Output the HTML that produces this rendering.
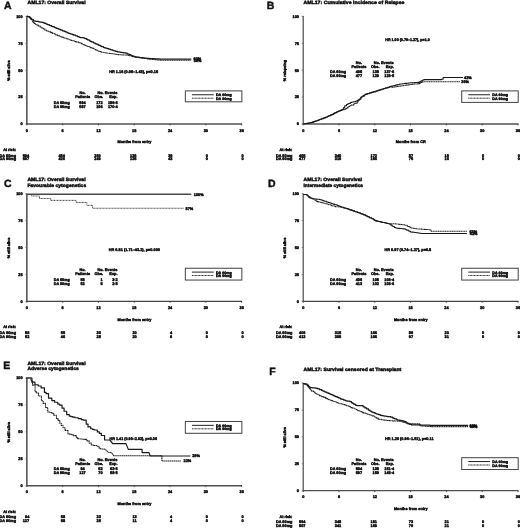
<!DOCTYPE html>
<html lang="en">
<head>
<meta charset="utf-8">
<title>AML17 survival figure</title>
<style>
html,body{margin:0;padding:0;background:#fff;}
body{width:520px;height:528px;overflow:hidden;}
svg{display:block;font-family:"Liberation Sans", sans-serif;font-weight:bold;fill:#111;}
text{stroke:#111;stroke-width:4.5px;}
</style>
</head>
<body>
<svg width="520" height="528" viewBox="0 0 5200 5280" text-rendering="geometricPrecision">
<g id="panel-A">
<line x1="268.5" y1="160.5" x2="268.5" y2="1245.5" stroke="#565656" stroke-width="16"/>
<line x1="262.5" y1="1239.5" x2="2420.5" y2="1239.5" stroke="#525252" stroke-width="16"/>
<line x1="268.5" y1="1237.5" x2="268.5" y2="1253.5" stroke="#3a3a3a" stroke-width="9"/>
<text x="268.5" y="1316.4" font-size="38.5" text-anchor="middle">0</text>
<line x1="626.5" y1="1237.5" x2="626.5" y2="1253.5" stroke="#3a3a3a" stroke-width="9"/>
<text x="626.5" y="1316.4" font-size="38.5" text-anchor="middle">6</text>
<line x1="984.5" y1="1237.5" x2="984.5" y2="1253.5" stroke="#3a3a3a" stroke-width="9"/>
<text x="984.5" y="1316.4" font-size="38.5" text-anchor="middle">12</text>
<line x1="1342.5" y1="1237.5" x2="1342.5" y2="1253.5" stroke="#3a3a3a" stroke-width="9"/>
<text x="1342.5" y="1316.4" font-size="38.5" text-anchor="middle">18</text>
<line x1="1700.5" y1="1237.5" x2="1700.5" y2="1253.5" stroke="#3a3a3a" stroke-width="9"/>
<text x="1700.5" y="1316.4" font-size="38.5" text-anchor="middle">24</text>
<line x1="2058.5" y1="1237.5" x2="2058.5" y2="1253.5" stroke="#3a3a3a" stroke-width="9"/>
<text x="2058.5" y="1316.4" font-size="38.5" text-anchor="middle">30</text>
<line x1="2416.5" y1="1237.5" x2="2416.5" y2="1253.5" stroke="#3a3a3a" stroke-width="9"/>
<text x="2416.5" y="1316.4" font-size="38.5" text-anchor="middle">36</text>
<line x1="253.5" y1="1239.5" x2="268.5" y2="1239.5" stroke="#666" stroke-width="8"/>
<text x="226.5" y="1253.4" font-size="38.5" text-anchor="end">0</text>
<line x1="253.5" y1="970.5" x2="268.5" y2="970.5" stroke="#666" stroke-width="8"/>
<text x="226.5" y="984.4" font-size="38.5" text-anchor="end">25</text>
<line x1="253.5" y1="701.5" x2="268.5" y2="701.5" stroke="#666" stroke-width="8"/>
<text x="226.5" y="715.4" font-size="38.5" text-anchor="end">50</text>
<line x1="253.5" y1="432.5" x2="268.5" y2="432.5" stroke="#666" stroke-width="8"/>
<text x="226.5" y="446.4" font-size="38.5" text-anchor="end">75</text>
<line x1="253.5" y1="163.5" x2="268.5" y2="163.5" stroke="#666" stroke-width="8"/>
<text x="226.5" y="177.4" font-size="38.5" text-anchor="end">100</text>
<text x="41" y="87.5" font-size="105" stroke-width="2.5">A</text>
<text x="276" y="35.5" font-size="47" textLength="580" lengthAdjust="spacingAndGlyphs">AML17: Overall Survival</text>
<text x="99.5" y="705.5" font-size="38" text-anchor="middle" textLength="206" lengthAdjust="spacingAndGlyphs" transform="rotate(-90 99.5 705.5)">% still alive</text>
<text x="1344.5" y="1432.4" font-size="38.5" text-anchor="middle">Months from entry</text>
<text x="1092.5" y="730.9" font-size="38.5" textLength="488" lengthAdjust="spacingAndGlyphs">HR 1.16 (0.95–1.43), p=0.15</text>
<text x="825.5" y="938.4" font-size="38.5" text-anchor="middle">No.</text>
<text x="826.5" y="978.4" font-size="38.5" text-anchor="middle">Patients</text>
<text x="1073.5" y="938.4" font-size="38.5" text-anchor="middle">No. Events</text>
<text x="988.5" y="978.4" font-size="38.5" text-anchor="middle">Obs.</text>
<text x="1174.5" y="978.4" font-size="38.5" text-anchor="end">Exp.</text>
<text x="537.5" y="1037.4" font-size="38.5" textLength="160" lengthAdjust="spacingAndGlyphs">DA 60mg</text>
<text x="825.5" y="1037.4" font-size="38.5" text-anchor="middle">594</text>
<text x="1026.5" y="1037.4" font-size="38.5" text-anchor="end">172</text>
<text x="1177.5" y="1037.4" font-size="38.5" text-anchor="end">186·6</text>
<text x="537.5" y="1078.9" font-size="38.5" textLength="160" lengthAdjust="spacingAndGlyphs">DA 90mg</text>
<text x="825.5" y="1078.9" font-size="38.5" text-anchor="middle">597</text>
<text x="1026.5" y="1078.9" font-size="38.5" text-anchor="end">196</text>
<text x="1177.5" y="1078.9" font-size="38.5" text-anchor="end">170·4</text>
<rect x="1853.5" y="909" width="565" height="109" fill="none" stroke="#4a4a4a" stroke-width="10.5"/>
<line x1="1919.5" y1="947.5" x2="2137.5" y2="947.5" stroke="#151515" stroke-width="9.5"/>
<line x1="1919.5" y1="982" x2="2137.5" y2="982" stroke="#151515" stroke-width="9.5" stroke-dasharray="10 4.5"/>
<text x="2159.5" y="962" font-size="36" textLength="158" lengthAdjust="spacingAndGlyphs" stroke-width="3">DA 60mg</text>
<text x="2159.5" y="998" font-size="36" textLength="158" lengthAdjust="spacingAndGlyphs" stroke-width="3">DA 90mg</text>
<text x="31.5" y="1510.4" font-size="38.5" textLength="128" lengthAdjust="spacingAndGlyphs">At risk:</text>
<text x="-4.5" y="1566.4" font-size="38.5" textLength="165" lengthAdjust="spacingAndGlyphs">DA 60mg</text>
<text x="258.5" y="1566.4" font-size="38.5" text-anchor="middle">594</text>
<text x="616.5" y="1566.4" font-size="38.5" text-anchor="middle">484</text>
<text x="974.5" y="1566.4" font-size="38.5" text-anchor="middle">260</text>
<text x="1332.5" y="1566.4" font-size="38.5" text-anchor="middle">136</text>
<text x="1703.5" y="1566.4" font-size="38.5" text-anchor="middle">39</text>
<text x="2067.5" y="1566.4" font-size="38.5" text-anchor="middle">0</text>
<text x="2425.5" y="1566.4" font-size="38.5" text-anchor="middle">0</text>
<text x="-4.5" y="1604.4" font-size="38.5" textLength="165" lengthAdjust="spacingAndGlyphs">DA 90mg</text>
<text x="258.5" y="1604.4" font-size="38.5" text-anchor="middle">597</text>
<text x="616.5" y="1604.4" font-size="38.5" text-anchor="middle">426</text>
<text x="974.5" y="1604.4" font-size="38.5" text-anchor="middle">249</text>
<text x="1332.5" y="1604.4" font-size="38.5" text-anchor="middle">135</text>
<text x="1703.5" y="1604.4" font-size="38.5" text-anchor="middle">43</text>
<text x="2067.5" y="1604.4" font-size="38.5" text-anchor="middle">0</text>
<text x="2425.5" y="1604.4" font-size="38.5" text-anchor="middle">0</text>
<path d="M268 162.5 L280.5 162.5 L280.5 166.8 L298 166.8 L298 178.8 L305.4 178.8 L305.4 186.9 L315.8 186.9 L315.8 197.1 L334.4 197.1 L334.4 207.9 L349.3 207.9 L349.3 210.9 L357.9 210.9 L357.9 212.6 L369 212.6 L369 214.7 L386.6 214.7 L386.6 217.9 L398.9 217.9 L398.9 220.2 L406.2 220.2 L406.2 221.5 L424 221.5 L424 224.8 L432.5 224.8 L432.5 228.1 L447.2 228.1 L447.2 234.2 L461.7 234.2 L461.7 240.2 L474.2 240.2 L474.2 245.3 L492.7 245.3 L492.7 253 L501.9 253 L501.9 256.8 L516.1 256.8 L516.1 262.8 L524.5 262.8 L524.5 266.3 L543.1 266.3 L543.1 274.1 L551.8 274.1 L551.8 277.8 L565 277.8 L565 283.3 L582 283.3 L582 290.3 L599.6 290.3 L599.6 297.3 L607.7 297.3 L607.7 300.6 L625.3 300.6 L625.3 307.6 L642.4 307.6 L642.4 314.4 L653.2 314.4 L653.2 318.8 L669.2 318.8 L669.2 325.2 L679 325.2 L679 329.1 L687.8 329.1 L687.8 332.6 L696.8 332.6 L696.8 336.2 L707.5 336.2 L707.5 340.3 L724.4 340.3 L724.4 346.6 L736.9 346.6 L736.9 351.3 L755.8 351.3 L755.8 358.4 L773.5 358.4 L773.5 365.1 L783 365.1 L783 368.6 L795.2 368.6 L795.2 373.2 L803 373.2 L803 375.3 L817 375.3 L817 376.8 L831.3 376.8 L831.3 378.3 L845.4 378.3 L845.4 383.1 L853.4 383.1 L853.4 387.4 L867.8 387.4 L867.8 394.9 L876.1 394.9 L876.1 399.3 L893.2 399.3 L893.2 408.3 L905.7 408.3 L905.7 414.9 L913.9 414.9 L913.9 419.2 L932.7 419.2 L932.7 428.4 L951 428.4 L951 436.6 L962 436.6 L962 441.4 L980.1 441.4 L980.1 449.5 L990.5 449.5 L990.5 454.1 L1003.9 454.1 L1003.9 460.1 L1017.8 460.1 L1017.8 466.3 L1034.3 466.3 L1034.3 473.6 L1042.1 473.6 L1042.1 476.5 L1049.6 476.5 L1049.6 478.9 L1058.4 478.9 L1058.4 481.7 L1070 481.7 L1070 485.4 L1086.6 485.4 L1086.6 490.7 L1102.2 490.7 L1102.2 495.7 L1110.5 495.7 L1110.5 498.4 L1126.3 498.4 L1126.3 503.4 L1135.6 503.4 L1135.6 506.4 L1142.8 506.4 L1142.8 508.7 L1155.6 508.7 L1155.6 512.8 L1173.5 512.8 L1173.5 518.5 L1191.4 518.5 L1191.4 521.2 L1203.7 521.2 L1203.7 522.8 L1220.2 522.8 L1220.2 525 L1229.6 525 L1229.6 526.3 L1238.5 526.3 L1238.5 527.5 L1257 527.5 L1257 532 L1272 532 L1272 538.3 L1281.1 538.3 L1281.1 542.2 L1292.2 542.2 L1292.2 546.8 L1308.4 546.8 L1308.4 553.7 L1316.1 553.7 L1316.1 557 L1325.4 557 L1325.4 560.9 L1342 560.9 L1342 566.7 L1351.8 566.7 L1351.8 568.3 L1363.9 568.3 L1363.9 570.2 L1376 570.2 L1376 572.2 L1388.8 572.2 L1388.8 574.2 L1399.5 574.2 L1399.5 575.9 L1409.5 575.9 L1409.5 576.9 L1426.1 576.9 L1426.1 578.6 L1442.2 578.6 L1442.2 580.2 L1460.5 580.2 L1460.5 582.1 L1468 582.1 L1468 582.8 L1476.9 582.8 L1476.9 583.7 L1494.2 583.7 L1494.2 585.4 L1504.9 585.4 L1504.9 586.2 L1521.4 586.2 L1521.4 587 L1532.1 587 L1532.1 587.4 L1543.8 587.4 L1543.8 587.9 L1558.8 587.9 L1558.8 588.6 L1570.9 588.6 L1570.9 589.2 L1584.2 589.2 L1584.2 589.7 L1591.7 589.7 L1591.7 590.1 L1608.9 590.1 L1608.9 590.8 L1623.4 590.8 L1623.4 591 L1633.4 591 L1633.4 591 L1646.1 591 L1646.1 591 L1660.8 591 L1660.8 591 L1679 591 L1679 591 L1686.3 591 L1686.3 591 L1704.4 591 L1704.4 591 L1718.4 591 L1718.4 591 L1725.9 591 L1725.9 591 L1737.3 591 L1737.3 591 L1753 591 L1753 591 L1761.4 591 L1761.4 591 L1775.4 591 L1775.4 591 L1789.1 591 L1789.1 591 L1803 591 L1803 591 L1810.4 591 L1810.4 591 L1817.6 591 L1817.6 591 L1836.2 591 L1836.2 591 L1845.1 591 L1845.1 591 L1854.4 591 L1854.4 591 L1868.2 591 L1868.2 591 L1875.4 591 L1875.4 591 L1891.2 591 L1891.2 591 L1907.4 591 L1907.4 591 L1912.5 591 L1912.5 591" fill="none" stroke="#1a1a1a" stroke-width="12.5" stroke-linejoin="round"/>
<path d="M268 162.5 L278.1 162.5 L278.1 166.9 L293.3 166.9 L293.3 175.7 L308.5 175.7 L308.5 193.3 L325.7 193.3 L325.7 215.9 L335 215.9 L335 227.7 L344.7 227.7 L344.7 235.4 L353.5 235.4 L353.5 240.8 L363.2 240.8 L363.2 246.8 L379 246.8 L379 256.5 L387.6 256.5 L387.6 261.7 L400.9 261.7 L400.9 269.9 L410.5 269.9 L410.5 275.8 L421 275.8 L421 282.2 L433.2 282.2 L433.2 289.7 L450.3 289.7 L450.3 300.1 L464.6 300.1 L464.6 306.5 L471.7 306.5 L471.7 309.7 L482.1 309.7 L482.1 314.4 L490.8 314.4 L490.8 318.3 L508.3 318.3 L508.3 326.1 L525 326.1 L525 333.6 L541.7 333.6 L541.7 341.1 L558.6 341.1 L558.6 348.6 L574.5 348.6 L574.5 355.8 L592.9 355.8 L592.9 362.3 L609.4 362.3 L609.4 368.1 L619.5 368.1 L619.5 371.7 L636.7 371.7 L636.7 377.7 L649.6 377.7 L649.6 382.2 L665.6 382.2 L665.6 387.9 L679.4 387.9 L679.4 392.7 L691.5 392.7 L691.5 397 L702.9 397 L702.9 400.9 L715.1 400.9 L715.1 404.7 L725.8 404.7 L725.8 408 L734.2 408 L734.2 410.6 L751.1 410.6 L751.1 415.8 L767.7 415.8 L767.7 421 L786.5 421 L786.5 426.8 L801.8 426.8 L801.8 431.8 L815.4 431.8 L815.4 437.8 L831.4 437.8 L831.4 444.8 L840 444.8 L840 448.6 L855.1 448.6 L855.1 455.3 L867.5 455.3 L867.5 460.7 L876.6 460.7 L876.6 464.7 L886 464.7 L886 468.8 L899.3 468.8 L899.3 474.7 L909.3 474.7 L909.3 478.9 L921.8 478.9 L921.8 484.2 L936.1 484.2 L936.1 490.2 L947.9 490.2 L947.9 495.2 L956.4 495.2 L956.4 498.8 L969.3 498.8 L969.3 504.3 L979.1 504.3 L979.1 508.4 L989 508.4 L989 512.6 L998.3 512.6 L998.3 516.5 L1009.7 516.5 L1009.7 521.3 L1017.6 521.3 L1017.6 523.2 L1032.4 523.2 L1032.4 525.4 L1050.8 525.4 L1050.8 528 L1062.5 528 L1062.5 529.7 L1078.1 529.7 L1078.1 532 L1096.3 532 L1096.3 534.6 L1103.9 534.6 L1103.9 535.7 L1112.6 535.7 L1112.6 537 L1129.2 537 L1129.2 539.4 L1146.3 539.4 L1146.3 541.8 L1161 541.8 L1161 544 L1169.9 544 L1169.9 545.3 L1181.8 545.3 L1181.8 546.4 L1199.3 546.4 L1199.3 547.5 L1216.9 547.5 L1216.9 548.5 L1233.5 548.5 L1233.5 549.5 L1243 549.5 L1243 550.1 L1260.2 550.1 L1260.2 551.1 L1271.7 551.1 L1271.7 551.8 L1287.3 551.8 L1287.3 555.3 L1296 555.3 L1296 557.7 L1314.6 557.7 L1314.6 562.8 L1328.8 562.8 L1328.8 566.6 L1344.5 566.6 L1344.5 570 L1354.1 570 L1354.1 571.4 L1368.5 571.4 L1368.5 573.5 L1382.4 573.5 L1382.4 575.5 L1396.5 575.5 L1396.5 577.5 L1407.8 577.5 L1407.8 579.1 L1423.6 579.1 L1423.6 581.3 L1434.7 581.3 L1434.7 582.9 L1445.2 582.9 L1445.2 584.3 L1454.2 584.3 L1454.2 585.6 L1469.4 585.6 L1469.4 587.7 L1477.7 587.7 L1477.7 588.9 L1487.5 588.9 L1487.5 590.2 L1495.3 590.2 L1495.3 591.3 L1510 591.3 L1510 592.9 L1523.7 592.9 L1523.7 594.1 L1537.2 594.1 L1537.2 595.3 L1544.7 595.3 L1544.7 596 L1556.9 596 L1556.9 597.1 L1568.1 597.1 L1568.1 598 L1576.2 598 L1576.2 598.8 L1583.2 598.8 L1583.2 599.4 L1602.2 599.4 L1602.2 601.1 L1610.6 601.1 L1610.6 601.8 L1621.3 601.8 L1621.3 602 L1631.5 602 L1631.5 602 L1645.7 602 L1645.7 602 L1653.6 602 L1653.6 602 L1666.2 602 L1666.2 602 L1677.6 602 L1677.6 602 L1694.6 602 L1694.6 602 L1701.7 602 L1701.7 602 L1712.7 602 L1712.7 602 L1725.7 602 L1725.7 602 L1744.3 602 L1744.3 602 L1757.5 602 L1757.5 602 L1770.2 602 L1770.2 602 L1785.2 602 L1785.2 602 L1795.8 602 L1795.8 602 L1803.2 602 L1803.2 602 L1816.2 602 L1816.2 602 L1834.1 602 L1834.1 602 L1850 602 L1850 602 L1860.1 602 L1860.1 602 L1875.3 602 L1875.3 602 L1892.5 602 L1892.5 602 L1902.6 602 L1902.6 602 L1912.5 602 L1912.5 602" fill="none" stroke="#1c1c1c" stroke-width="11" stroke-dasharray="13 4.5" stroke-linejoin="round"/>
<text x="1935" y="603.9" font-size="38.5">60%</text>
<text x="1938" y="615.9" font-size="38.5">59%</text>
</g>
<g id="panel-B">
<line x1="3032" y1="160.5" x2="3032" y2="1245.5" stroke="#4a4a4a" stroke-width="12"/>
<line x1="3026" y1="1239.5" x2="5184" y2="1239.5" stroke="#525252" stroke-width="16"/>
<line x1="3032" y1="1237.5" x2="3032" y2="1253.5" stroke="#3a3a3a" stroke-width="9"/>
<text x="3032" y="1316.4" font-size="38.5" text-anchor="middle">0</text>
<line x1="3390" y1="1237.5" x2="3390" y2="1253.5" stroke="#3a3a3a" stroke-width="9"/>
<text x="3390" y="1316.4" font-size="38.5" text-anchor="middle">6</text>
<line x1="3748" y1="1237.5" x2="3748" y2="1253.5" stroke="#3a3a3a" stroke-width="9"/>
<text x="3748" y="1316.4" font-size="38.5" text-anchor="middle">12</text>
<line x1="4106" y1="1237.5" x2="4106" y2="1253.5" stroke="#3a3a3a" stroke-width="9"/>
<text x="4106" y="1316.4" font-size="38.5" text-anchor="middle">18</text>
<line x1="4464" y1="1237.5" x2="4464" y2="1253.5" stroke="#3a3a3a" stroke-width="9"/>
<text x="4464" y="1316.4" font-size="38.5" text-anchor="middle">24</text>
<line x1="4822" y1="1237.5" x2="4822" y2="1253.5" stroke="#3a3a3a" stroke-width="9"/>
<text x="4822" y="1316.4" font-size="38.5" text-anchor="middle">30</text>
<line x1="5180" y1="1237.5" x2="5180" y2="1253.5" stroke="#3a3a3a" stroke-width="9"/>
<text x="5180" y="1316.4" font-size="38.5" text-anchor="middle">36</text>
<line x1="3017" y1="1239.5" x2="3032" y2="1239.5" stroke="#666" stroke-width="8"/>
<text x="2990" y="1253.4" font-size="38.5" text-anchor="end">0</text>
<line x1="3017" y1="970.5" x2="3032" y2="970.5" stroke="#666" stroke-width="8"/>
<text x="2990" y="984.4" font-size="38.5" text-anchor="end">25</text>
<line x1="3017" y1="701.5" x2="3032" y2="701.5" stroke="#666" stroke-width="8"/>
<text x="2990" y="715.4" font-size="38.5" text-anchor="end">50</text>
<line x1="3017" y1="432.5" x2="3032" y2="432.5" stroke="#666" stroke-width="8"/>
<text x="2990" y="446.4" font-size="38.5" text-anchor="end">75</text>
<line x1="3017" y1="163.5" x2="3032" y2="163.5" stroke="#666" stroke-width="8"/>
<text x="2990" y="177.4" font-size="38.5" text-anchor="end">100</text>
<text x="2668" y="90" font-size="105" stroke-width="2.5">B</text>
<text x="3035" y="35.5" font-size="47" textLength="1010" lengthAdjust="spacingAndGlyphs">AML17: Cumulative incidence of Relapse</text>
<text x="2863" y="705.5" font-size="38" text-anchor="middle" textLength="215" lengthAdjust="spacingAndGlyphs" transform="rotate(-90 2863 705.5)">% relapsing</text>
<text x="4108" y="1432.4" font-size="38.5" text-anchor="middle">Months from CR</text>
<text x="3853" y="414.9" font-size="38.5" textLength="444" lengthAdjust="spacingAndGlyphs">HR 1.00 (0.79–1.27), p=1.0</text>
<text x="3589" y="638.4" font-size="38.5" text-anchor="middle">No.</text>
<text x="3590" y="676.4" font-size="38.5" text-anchor="middle">Patients</text>
<text x="3837" y="638.4" font-size="38.5" text-anchor="middle">No. Events</text>
<text x="3752" y="676.4" font-size="38.5" text-anchor="middle">Obs.</text>
<text x="3938" y="676.4" font-size="38.5" text-anchor="end">Exp.</text>
<text x="3301" y="733.4" font-size="38.5" textLength="160" lengthAdjust="spacingAndGlyphs">DA 60mg</text>
<text x="3589" y="733.4" font-size="38.5" text-anchor="middle">495</text>
<text x="3790" y="733.4" font-size="38.5" text-anchor="end">138</text>
<text x="3941" y="733.4" font-size="38.5" text-anchor="end">137·6</text>
<text x="3301" y="772.4" font-size="38.5" textLength="160" lengthAdjust="spacingAndGlyphs">DA 90mg</text>
<text x="3589" y="772.4" font-size="38.5" text-anchor="middle">477</text>
<text x="3790" y="772.4" font-size="38.5" text-anchor="end">129</text>
<text x="3941" y="772.4" font-size="38.5" text-anchor="end">129·5</text>
<rect x="4617" y="909" width="565" height="115" fill="none" stroke="#4a4a4a" stroke-width="10.5"/>
<line x1="4683" y1="947.5" x2="4901" y2="947.5" stroke="#151515" stroke-width="9.5"/>
<line x1="4683" y1="982" x2="4901" y2="982" stroke="#151515" stroke-width="9.5" stroke-dasharray="10 4.5"/>
<text x="4923" y="962" font-size="36" textLength="158" lengthAdjust="spacingAndGlyphs" stroke-width="3">DA 60mg</text>
<text x="4923" y="998" font-size="36" textLength="158" lengthAdjust="spacingAndGlyphs" stroke-width="3">DA 90mg</text>
<text x="2795" y="1510.4" font-size="38.5" textLength="128" lengthAdjust="spacingAndGlyphs">At risk:</text>
<text x="2759" y="1566.4" font-size="38.5" textLength="165" lengthAdjust="spacingAndGlyphs">DA 60mg</text>
<text x="3022" y="1566.4" font-size="38.5" text-anchor="middle">495</text>
<text x="3380" y="1566.4" font-size="38.5" text-anchor="middle">340</text>
<text x="3738" y="1566.4" font-size="38.5" text-anchor="middle">172</text>
<text x="4109" y="1566.4" font-size="38.5" text-anchor="middle">87</text>
<text x="4467" y="1566.4" font-size="38.5" text-anchor="middle">18</text>
<text x="4831" y="1566.4" font-size="38.5" text-anchor="middle">0</text>
<text x="5189" y="1566.4" font-size="38.5" text-anchor="middle">0</text>
<text x="2759" y="1604.4" font-size="38.5" textLength="165" lengthAdjust="spacingAndGlyphs">DA 90mg</text>
<text x="3022" y="1604.4" font-size="38.5" text-anchor="middle">477</text>
<text x="3380" y="1604.4" font-size="38.5" text-anchor="middle">319</text>
<text x="3738" y="1604.4" font-size="38.5" text-anchor="middle">166</text>
<text x="4109" y="1604.4" font-size="38.5" text-anchor="middle">75</text>
<text x="4467" y="1604.4" font-size="38.5" text-anchor="middle">16</text>
<text x="4831" y="1604.4" font-size="38.5" text-anchor="middle">0</text>
<text x="5189" y="1604.4" font-size="38.5" text-anchor="middle">0</text>
<path d="M3037 1237.5 L3044.5 1237.5 L3044.5 1236.5 L3059.8 1236.5 L3059.8 1234.6 L3068.5 1234.6 L3068.5 1233.5 L3081.1 1233.5 L3081.1 1231.7 L3096.2 1231.7 L3096.2 1228.1 L3112.7 1228.1 L3112.7 1224 L3125.1 1224 L3125.1 1221 L3138.1 1221 L3138.1 1216.2 L3145.3 1216.2 L3145.3 1213.5 L3157.5 1213.5 L3157.5 1209 L3169 1209 L3169 1204.7 L3186.2 1204.7 L3186.2 1198.4 L3199.8 1198.4 L3199.8 1193.3 L3215.8 1193.3 L3215.8 1187.4 L3228 1187.4 L3228 1182.8 L3237.2 1182.8 L3237.2 1179.1 L3254.4 1179.1 L3254.4 1172.3 L3271.2 1172.3 L3271.2 1165.5 L3282.7 1165.5 L3282.7 1160.9 L3290.9 1160.9 L3290.9 1157.3 L3304 1157.3 L3304 1150.7 L3317 1150.7 L3317 1144.2 L3333.2 1144.2 L3333.2 1136 L3347.4 1136 L3347.4 1128.9 L3360.5 1128.9 L3360.5 1122.3 L3374.4 1122.3 L3374.4 1115.3 L3385.9 1115.3 L3385.9 1110.2 L3393.5 1110.2 L3393.5 1106.9 L3401.2 1106.9 L3401.2 1103.5 L3419.5 1103.5 L3419.5 1095.4 L3436.6 1095.4 L3436.6 1074.2 L3447.2 1074.2 L3447.2 1057.1 L3464.8 1057.1 L3464.8 1045 L3478.1 1045 L3478.1 1038.3 L3486.3 1038.3 L3486.3 1034.2 L3503.6 1034.2 L3503.6 1025.5 L3517.6 1025.5 L3517.6 1020.2 L3535.8 1020.2 L3535.8 1017.3 L3550.9 1017.3 L3550.9 1014.5 L3559.1 1014.5 L3559.1 1010.4 L3573.5 1010.4 L3573.5 1003.1 L3590 1003.1 L3590 992.3 L3607.8 992.3 L3607.8 972.1 L3618.8 972.1 L3618.8 964.6 L3632.1 964.6 L3632.1 955.4 L3647.5 955.4 L3647.5 944.7 L3656.5 944.7 L3656.5 941 L3673.7 941 L3673.7 935.7 L3690.1 935.7 L3690.1 930.6 L3697.7 930.6 L3697.7 928.2 L3711.8 928.2 L3711.8 923.8 L3723.2 923.8 L3723.2 920.2 L3732.4 920.2 L3732.4 917.3 L3746.7 917.3 L3746.7 912.8 L3765.3 912.8 L3765.3 906.9 L3778.9 906.9 L3778.9 902.6 L3787.3 902.6 L3787.3 900 L3800.2 900 L3800.2 895.9 L3816.6 895.9 L3816.6 890.9 L3835 890.9 L3835 885.1 L3850.6 885.1 L3850.6 880.3 L3858.1 880.3 L3858.1 878 L3876.7 878 L3876.7 872.2 L3890.9 872.2 L3890.9 867.8 L3898.9 867.8 L3898.9 865.3 L3907.5 865.3 L3907.5 863.1 L3915.5 863.1 L3915.5 861.1 L3930.5 861.1 L3930.5 857.4 L3939.3 857.4 L3939.3 855.2 L3956 855.2 L3956 851 L3964.3 851 L3964.3 848.9 L3977.7 848.9 L3977.7 845.6 L3990.1 845.6 L3990.1 842.5 L3997.5 842.5 L3997.5 840.6 L4004.5 840.6 L4004.5 839.4 L4022.4 839.4 L4022.4 837.2 L4041.1 837.2 L4041.1 834.9 L4049.6 834.9 L4049.6 833.8 L4065.4 833.8 L4065.4 831.8 L4084.3 831.8 L4084.3 829.5 L4102.1 829.5 L4102.1 827.4 L4119.7 827.4 L4119.7 826.8 L4130.8 826.8 L4130.8 826.5 L4146.4 826.5 L4146.4 826 L4159.4 826 L4159.4 825.5 L4177.6 825.5 L4177.6 823.8 L4193.1 823.8 L4193.1 816.6 L4210.2 816.6 L4210.2 808.7 L4227.5 808.7 L4227.5 800.6 L4239.1 800.6 L4239.1 796 L4254.7 796 L4254.7 796 L4262.8 796 L4262.8 796 L4272.2 796 L4272.2 796 L4290.5 796 L4290.5 796 L4302.3 796 L4302.3 796 L4317.6 796 L4317.6 796 L4331.5 796 L4331.5 796 L4341.6 796 L4341.6 796 L4355.6 796 L4355.6 796 L4373.6 796 L4373.6 796 L4384.5 796 L4384.5 796 L4395.7 796 L4395.7 796 L4404.9 796 L4404.9 796 L4414 796 L4414 793.3 L4431 793.3 L4431 774 L4446.4 774 L4446.4 774 L4465 774 L4465 774 L4480.1 774 L4480.1 774 L4498.6 774 L4498.6 774 L4508.2 774 L4508.2 774 L4517.5 774 L4517.5 774 L4527.1 774 L4527.1 774 L4538.7 774 L4538.7 774 L4557.6 774 L4557.6 774 L4567.3 774 L4567.3 774 L4579.8 774 L4579.8 774 L4587.5 774 L4587.5 774 L4594.8 774 L4594.8 774 L4608.4 774 L4608.4 774 L4622.7 774 L4622.7 774 L4631 774 L4631 774" fill="none" stroke="#1a1a1a" stroke-width="10.5" stroke-linejoin="round"/>
<path d="M3037 1237.5 L3053.1 1237.5 L3053.1 1235.4 L3066.3 1235.4 L3066.3 1233.8 L3085.3 1233.8 L3085.3 1230.7 L3098.7 1230.7 L3098.7 1227.4 L3117 1227.4 L3117 1223 L3125.5 1223 L3125.5 1220.8 L3138.4 1220.8 L3138.4 1216 L3147.1 1216 L3147.1 1212.8 L3154.2 1212.8 L3154.2 1210.2 L3162.3 1210.2 L3162.3 1207.2 L3172.6 1207.2 L3172.6 1203.4 L3181.9 1203.4 L3181.9 1199.9 L3195.7 1199.9 L3195.7 1194.8 L3209.1 1194.8 L3209.1 1189.9 L3218.4 1189.9 L3218.4 1186.4 L3233.2 1186.4 L3233.2 1180.7 L3244.5 1180.7 L3244.5 1176.2 L3260.4 1176.2 L3260.4 1169.8 L3272.1 1169.8 L3272.1 1165.2 L3280.9 1165.2 L3280.9 1161.6 L3290.1 1161.6 L3290.1 1157.7 L3308.6 1157.7 L3308.6 1148.4 L3323.1 1148.4 L3323.1 1141.1 L3337.3 1141.1 L3337.3 1134 L3351.4 1134 L3351.4 1126.9 L3364.5 1126.9 L3364.5 1120.3 L3373.4 1120.3 L3373.4 1115.8 L3389.2 1115.8 L3389.2 1108.7 L3404.4 1108.7 L3404.4 1102 L3421.9 1102 L3421.9 1094.3 L3434.6 1094.3 L3434.6 1096.9 L3441.7 1096.9 L3441.7 1092.8 L3453.2 1092.8 L3453.2 1086.2 L3466.5 1086.2 L3466.5 1078.4 L3480.6 1078.4 L3480.6 1070.2 L3491.2 1070.2 L3491.2 1064.1 L3502.7 1064.1 L3502.7 1057.6 L3514.8 1057.6 L3514.8 1051.5 L3532.7 1051.5 L3532.7 1042.5 L3541.1 1042.5 L3541.1 1038.3 L3549.7 1038.3 L3549.7 1033.9 L3567.9 1033.9 L3567.9 1021.3 L3581.7 1021.3 L3581.7 1005.6 L3588.9 1005.6 L3588.9 996.9 L3598.4 996.9 L3598.4 982.4 L3610.1 982.4 L3610.1 973.1 L3623.3 973.1 L3623.3 964.1 L3640.3 964.1 L3640.3 952.6 L3655.1 952.6 L3655.1 944.4 L3664.1 944.4 L3664.1 941.5 L3679.3 941.5 L3679.3 936.6 L3694.7 936.6 L3694.7 931.7 L3709.2 931.7 L3709.2 927.2 L3721.5 927.2 L3721.5 923.3 L3735.4 923.3 L3735.4 919 L3754.3 919 L3754.3 913.2 L3766.7 913.2 L3766.7 909.3 L3779.2 909.3 L3779.2 905.4 L3797.2 905.4 L3797.2 899.9 L3811.1 899.9 L3811.1 895.7 L3821.6 895.7 L3821.6 892.5 L3840.1 892.5 L3840.1 887 L3853.2 887 L3853.2 883.1 L3863.5 883.1 L3863.5 880 L3873.2 880 L3873.2 877 L3881.6 877 L3881.6 874.5 L3895.2 874.5 L3895.2 870.4 L3905.1 870.4 L3905.1 869.4 L3922.8 869.4 L3922.8 870.8 L3932.2 870.8 L3932.2 869.9 L3948.4 869.9 L3948.4 867.5 L3962.9 867.5 L3962.9 865.4 L3980.2 865.4 L3980.2 862.8 L3991.7 862.8 L3991.7 861.1 L4002.2 861.1 L4002.2 859.6 L4018.4 859.6 L4018.4 857.2 L4034.2 857.2 L4034.2 854.8 L4051.1 854.8 L4051.1 852.3 L4060.8 852.3 L4060.8 851 L4074.2 851 L4074.2 849 L4088.4 849 L4088.4 847 L4104.3 847 L4104.3 844.7 L4117.8 844.7 L4117.8 842.8 L4125.1 842.8 L4125.1 841.8 L4140.4 841.8 L4140.4 840 L4152.5 840 L4152.5 840 L4164.6 840 L4164.6 840 L4179.7 840 L4179.7 835.7 L4197.4 835.7 L4197.4 828.6 L4210.5 828.6 L4210.5 823.3 L4226.9 823.3 L4226.9 817.5 L4242.4 817.5 L4242.4 817.5 L4254.9 817.5 L4254.9 817.5 L4270.3 817.5 L4270.3 817.5 L4281.4 817.5 L4281.4 817.5 L4299.9 817.5 L4299.9 817.5 L4307.5 817.5 L4307.5 817.5 L4317.2 817.5 L4317.2 817.5 L4325.9 817.5 L4325.9 817.5 L4343.4 817.5 L4343.4 817.5 L4352 817.5 L4352 817.5 L4361 817.5 L4361 817.5 L4371.1 817.5 L4371.1 817.5 L4379.2 817.5 L4379.2 817.5 L4394.1 817.5 L4394.1 817.5 L4405.7 817.5 L4405.7 817.5 L4422.1 817.5 L4422.1 817.5 L4431.5 817.5 L4431.5 817.5 L4448.5 817.5 L4448.5 817.5 L4461.5 817.5 L4461.5 817.5 L4473.1 817.5 L4473.1 817.5 L4486.3 817.5 L4486.3 817.5 L4495.5 817.5 L4495.5 817.5 L4506.1 817.5 L4506.1 817.5 L4518.6 817.5 L4518.6 817.5 L4535.4 817.5 L4535.4 817.5 L4543.8 817.5 L4543.8 817.5 L4556.8 817.5 L4556.8 817.5 L4569.7 817.5 L4569.7 817.5 L4583.4 817.5 L4583.4 817.5 L4591.2 817.5 L4591.2 817.5 L4600 817.5 L4600 817.5" fill="none" stroke="#1c1c1c" stroke-width="11.5" stroke-dasharray="13 4.5" stroke-linejoin="round"/>
<text x="4640" y="787.9" font-size="38.5">42%</text>
<text x="4613" y="831.4" font-size="38.5">39%</text>
</g>
<g id="panel-C">
<line x1="268.5" y1="1934.5" x2="268.5" y2="3019.5" stroke="#565656" stroke-width="16"/>
<line x1="262.5" y1="3013.5" x2="2420.5" y2="3013.5" stroke="#444" stroke-width="10.5"/>
<line x1="268.5" y1="3011.5" x2="268.5" y2="3027.5" stroke="#3a3a3a" stroke-width="9"/>
<text x="268.5" y="3090.4" font-size="38.5" text-anchor="middle">0</text>
<line x1="626.5" y1="3011.5" x2="626.5" y2="3027.5" stroke="#3a3a3a" stroke-width="9"/>
<text x="626.5" y="3090.4" font-size="38.5" text-anchor="middle">6</text>
<line x1="984.5" y1="3011.5" x2="984.5" y2="3027.5" stroke="#3a3a3a" stroke-width="9"/>
<text x="984.5" y="3090.4" font-size="38.5" text-anchor="middle">12</text>
<line x1="1342.5" y1="3011.5" x2="1342.5" y2="3027.5" stroke="#3a3a3a" stroke-width="9"/>
<text x="1342.5" y="3090.4" font-size="38.5" text-anchor="middle">18</text>
<line x1="1700.5" y1="3011.5" x2="1700.5" y2="3027.5" stroke="#3a3a3a" stroke-width="9"/>
<text x="1700.5" y="3090.4" font-size="38.5" text-anchor="middle">24</text>
<line x1="2058.5" y1="3011.5" x2="2058.5" y2="3027.5" stroke="#3a3a3a" stroke-width="9"/>
<text x="2058.5" y="3090.4" font-size="38.5" text-anchor="middle">30</text>
<line x1="2416.5" y1="3011.5" x2="2416.5" y2="3027.5" stroke="#3a3a3a" stroke-width="9"/>
<text x="2416.5" y="3090.4" font-size="38.5" text-anchor="middle">36</text>
<line x1="253.5" y1="3013.5" x2="268.5" y2="3013.5" stroke="#666" stroke-width="8"/>
<text x="226.5" y="3027.4" font-size="38.5" text-anchor="end">0</text>
<line x1="253.5" y1="2744.5" x2="268.5" y2="2744.5" stroke="#666" stroke-width="8"/>
<text x="226.5" y="2758.4" font-size="38.5" text-anchor="end">25</text>
<line x1="253.5" y1="2475.5" x2="268.5" y2="2475.5" stroke="#666" stroke-width="8"/>
<text x="226.5" y="2489.4" font-size="38.5" text-anchor="end">50</text>
<line x1="253.5" y1="2206.5" x2="268.5" y2="2206.5" stroke="#666" stroke-width="8"/>
<text x="226.5" y="2220.4" font-size="38.5" text-anchor="end">75</text>
<line x1="253.5" y1="1937.5" x2="268.5" y2="1937.5" stroke="#666" stroke-width="8"/>
<text x="226.5" y="1951.4" font-size="38.5" text-anchor="end">100</text>
<text x="39" y="1870" font-size="105" stroke-width="2.5">C</text>
<text x="274" y="1812.5" font-size="47" textLength="582" lengthAdjust="spacingAndGlyphs">AML17: Overall Survival</text>
<text x="274" y="1866" font-size="47" textLength="588" lengthAdjust="spacingAndGlyphs">Favourable cytogenetics</text>
<text x="99.5" y="2479.5" font-size="38" text-anchor="middle" textLength="206" lengthAdjust="spacingAndGlyphs" transform="rotate(-90 99.5 2479.5)">% still alive</text>
<text x="1344.5" y="3206.4" font-size="38.5" text-anchor="middle">Months from entry</text>
<text x="1087.5" y="2507.4" font-size="38.5" textLength="512" lengthAdjust="spacingAndGlyphs">HR 6.51 (1.71–43.2), p=0.006</text>
<text x="825.5" y="2710.4" font-size="38.5" text-anchor="middle">No.</text>
<text x="826.5" y="2750.4" font-size="38.5" text-anchor="middle">Patients</text>
<text x="1073.5" y="2710.4" font-size="38.5" text-anchor="middle">No. Events</text>
<text x="988.5" y="2750.4" font-size="38.5" text-anchor="middle">Obs.</text>
<text x="1174.5" y="2750.4" font-size="38.5" text-anchor="end">Exp.</text>
<text x="537.5" y="2809.4" font-size="38.5" textLength="160" lengthAdjust="spacingAndGlyphs">DA 60mg</text>
<text x="825.5" y="2809.4" font-size="38.5" text-anchor="middle">58</text>
<text x="1026.5" y="2809.4" font-size="38.5" text-anchor="end">1</text>
<text x="1177.5" y="2809.4" font-size="38.5" text-anchor="end">3·2</text>
<text x="537.5" y="2850.9" font-size="38.5" textLength="160" lengthAdjust="spacingAndGlyphs">DA 90mg</text>
<text x="825.5" y="2850.9" font-size="38.5" text-anchor="middle">52</text>
<text x="1026.5" y="2850.9" font-size="38.5" text-anchor="end">5</text>
<text x="1177.5" y="2850.9" font-size="38.5" text-anchor="end">2·8</text>
<rect x="1853.5" y="2682.5" width="565" height="118" fill="none" stroke="#4a4a4a" stroke-width="10.5"/>
<line x1="1919.5" y1="2721" x2="2137.5" y2="2721" stroke="#151515" stroke-width="9.5"/>
<line x1="1919.5" y1="2755.5" x2="2137.5" y2="2755.5" stroke="#151515" stroke-width="9.5" stroke-dasharray="10 4.5"/>
<text x="2159.5" y="2735.5" font-size="36" textLength="158" lengthAdjust="spacingAndGlyphs" stroke-width="3">DA 60mg</text>
<text x="2159.5" y="2771.5" font-size="36" textLength="158" lengthAdjust="spacingAndGlyphs" stroke-width="3">DA 90mg</text>
<text x="31.5" y="3284.4" font-size="38.5" textLength="128" lengthAdjust="spacingAndGlyphs">At risk:</text>
<text x="-4.5" y="3340.4" font-size="38.5" textLength="165" lengthAdjust="spacingAndGlyphs">DA 60mg</text>
<text x="271.5" y="3340.4" font-size="38.5" text-anchor="middle">58</text>
<text x="629.5" y="3340.4" font-size="38.5" text-anchor="middle">55</text>
<text x="987.5" y="3340.4" font-size="38.5" text-anchor="middle">36</text>
<text x="1345.5" y="3340.4" font-size="38.5" text-anchor="middle">20</text>
<text x="1709.5" y="3340.4" font-size="38.5" text-anchor="middle">4</text>
<text x="2067.5" y="3340.4" font-size="38.5" text-anchor="middle">0</text>
<text x="2425.5" y="3340.4" font-size="38.5" text-anchor="middle">0</text>
<text x="-4.5" y="3378.4" font-size="38.5" textLength="165" lengthAdjust="spacingAndGlyphs">DA 90mg</text>
<text x="271.5" y="3378.4" font-size="38.5" text-anchor="middle">52</text>
<text x="629.5" y="3378.4" font-size="38.5" text-anchor="middle">46</text>
<text x="987.5" y="3378.4" font-size="38.5" text-anchor="middle">28</text>
<text x="1345.5" y="3378.4" font-size="38.5" text-anchor="middle">20</text>
<text x="1709.5" y="3378.4" font-size="38.5" text-anchor="middle">6</text>
<text x="2067.5" y="3378.4" font-size="38.5" text-anchor="middle">0</text>
<text x="2425.5" y="3378.4" font-size="38.5" text-anchor="middle">0</text>
<path d="M268 1942 L1912.5 1942" fill="none" stroke="#484848" stroke-width="14" stroke-linejoin="round"/>
<path d="M315 1944 L315 1960 L394 1960 L394 1985 L506 1985 L506 2004 L762.5 2004 L762.5 2025 L869 2025 L869 2054 L925 2054 L925 2082.5 L1837.5 2082.5" fill="none" stroke="#2a2a2a" stroke-width="8.5" stroke-dasharray="10 5" stroke-linejoin="round"/>
<text x="1937.5" y="1955.9" font-size="38.5">100%</text>
<text x="1855" y="2097.9" font-size="38.5">87%</text>
</g>
<g id="panel-D">
<line x1="3032" y1="1934.5" x2="3032" y2="3019.5" stroke="#4a4a4a" stroke-width="12"/>
<line x1="3026" y1="3013.5" x2="5184" y2="3013.5" stroke="#444" stroke-width="10.5"/>
<line x1="3032" y1="3011.5" x2="3032" y2="3027.5" stroke="#3a3a3a" stroke-width="9"/>
<text x="3032" y="3090.4" font-size="38.5" text-anchor="middle">0</text>
<line x1="3390" y1="3011.5" x2="3390" y2="3027.5" stroke="#3a3a3a" stroke-width="9"/>
<text x="3390" y="3090.4" font-size="38.5" text-anchor="middle">6</text>
<line x1="3748" y1="3011.5" x2="3748" y2="3027.5" stroke="#3a3a3a" stroke-width="9"/>
<text x="3748" y="3090.4" font-size="38.5" text-anchor="middle">12</text>
<line x1="4106" y1="3011.5" x2="4106" y2="3027.5" stroke="#3a3a3a" stroke-width="9"/>
<text x="4106" y="3090.4" font-size="38.5" text-anchor="middle">18</text>
<line x1="4464" y1="3011.5" x2="4464" y2="3027.5" stroke="#3a3a3a" stroke-width="9"/>
<text x="4464" y="3090.4" font-size="38.5" text-anchor="middle">24</text>
<line x1="4822" y1="3011.5" x2="4822" y2="3027.5" stroke="#3a3a3a" stroke-width="9"/>
<text x="4822" y="3090.4" font-size="38.5" text-anchor="middle">30</text>
<line x1="5180" y1="3011.5" x2="5180" y2="3027.5" stroke="#3a3a3a" stroke-width="9"/>
<text x="5180" y="3090.4" font-size="38.5" text-anchor="middle">36</text>
<line x1="3017" y1="3013.5" x2="3032" y2="3013.5" stroke="#666" stroke-width="8"/>
<text x="2990" y="3027.4" font-size="38.5" text-anchor="end">0</text>
<line x1="3017" y1="2744.5" x2="3032" y2="2744.5" stroke="#666" stroke-width="8"/>
<text x="2990" y="2758.4" font-size="38.5" text-anchor="end">25</text>
<line x1="3017" y1="2475.5" x2="3032" y2="2475.5" stroke="#666" stroke-width="8"/>
<text x="2990" y="2489.4" font-size="38.5" text-anchor="end">50</text>
<line x1="3017" y1="2206.5" x2="3032" y2="2206.5" stroke="#666" stroke-width="8"/>
<text x="2990" y="2220.4" font-size="38.5" text-anchor="end">75</text>
<line x1="3017" y1="1937.5" x2="3032" y2="1937.5" stroke="#666" stroke-width="8"/>
<text x="2990" y="1951.4" font-size="38.5" text-anchor="end">100</text>
<text x="2680" y="1867.5" font-size="105" stroke-width="2.5">D</text>
<text x="3035" y="1812.5" font-size="47" textLength="584" lengthAdjust="spacingAndGlyphs">AML17: Overall Survival</text>
<text x="3035" y="1866" font-size="47" textLength="595" lengthAdjust="spacingAndGlyphs">Intermediate cytogenetics</text>
<text x="2863" y="2479.5" font-size="38" text-anchor="middle" textLength="206" lengthAdjust="spacingAndGlyphs" transform="rotate(-90 2863 2479.5)">% still alive</text>
<text x="4108" y="3206.4" font-size="38.5" text-anchor="middle">Months from entry</text>
<text x="3845" y="2507.4" font-size="38.5" textLength="467.5" lengthAdjust="spacingAndGlyphs">HR 0.97 (0.74–1.27), p=0.8</text>
<text x="3589" y="2710.4" font-size="38.5" text-anchor="middle">No.</text>
<text x="3590" y="2750.4" font-size="38.5" text-anchor="middle">Patients</text>
<text x="3837" y="2710.4" font-size="38.5" text-anchor="middle">No. Events</text>
<text x="3752" y="2750.4" font-size="38.5" text-anchor="middle">Obs.</text>
<text x="3938" y="2750.4" font-size="38.5" text-anchor="end">Exp.</text>
<text x="3301" y="2809.4" font-size="38.5" textLength="160" lengthAdjust="spacingAndGlyphs">DA 60mg</text>
<text x="3589" y="2809.4" font-size="38.5" text-anchor="middle">406</text>
<text x="3790" y="2809.4" font-size="38.5" text-anchor="end">108</text>
<text x="3941" y="2809.4" font-size="38.5" text-anchor="end">106·4</text>
<text x="3301" y="2850.9" font-size="38.5" textLength="160" lengthAdjust="spacingAndGlyphs">DA 90mg</text>
<text x="3589" y="2850.9" font-size="38.5" text-anchor="middle">413</text>
<text x="3790" y="2850.9" font-size="38.5" text-anchor="end">102</text>
<text x="3941" y="2850.9" font-size="38.5" text-anchor="end">103·6</text>
<rect x="4617" y="2682.5" width="565" height="118" fill="none" stroke="#4a4a4a" stroke-width="10.5"/>
<line x1="4683" y1="2721" x2="4901" y2="2721" stroke="#151515" stroke-width="9.5"/>
<line x1="4683" y1="2755.5" x2="4901" y2="2755.5" stroke="#151515" stroke-width="9.5" stroke-dasharray="10 4.5"/>
<text x="4923" y="2735.5" font-size="36" textLength="158" lengthAdjust="spacingAndGlyphs" stroke-width="3">DA 60mg</text>
<text x="4923" y="2771.5" font-size="36" textLength="158" lengthAdjust="spacingAndGlyphs" stroke-width="3">DA 90mg</text>
<text x="2795" y="3284.4" font-size="38.5" textLength="128" lengthAdjust="spacingAndGlyphs">At risk:</text>
<text x="2759" y="3340.4" font-size="38.5" textLength="165" lengthAdjust="spacingAndGlyphs">DA 60mg</text>
<text x="3022" y="3340.4" font-size="38.5" text-anchor="middle">406</text>
<text x="3380" y="3340.4" font-size="38.5" text-anchor="middle">315</text>
<text x="3738" y="3340.4" font-size="38.5" text-anchor="middle">166</text>
<text x="4109" y="3340.4" font-size="38.5" text-anchor="middle">86</text>
<text x="4467" y="3340.4" font-size="38.5" text-anchor="middle">20</text>
<text x="4831" y="3340.4" font-size="38.5" text-anchor="middle">0</text>
<text x="5189" y="3340.4" font-size="38.5" text-anchor="middle">0</text>
<text x="2759" y="3378.4" font-size="38.5" textLength="165" lengthAdjust="spacingAndGlyphs">DA 90mg</text>
<text x="3022" y="3378.4" font-size="38.5" text-anchor="middle">413</text>
<text x="3380" y="3378.4" font-size="38.5" text-anchor="middle">305</text>
<text x="3738" y="3378.4" font-size="38.5" text-anchor="middle">166</text>
<text x="4109" y="3378.4" font-size="38.5" text-anchor="middle">97</text>
<text x="4467" y="3378.4" font-size="38.5" text-anchor="middle">31</text>
<text x="4831" y="3378.4" font-size="38.5" text-anchor="middle">0</text>
<text x="5189" y="3378.4" font-size="38.5" text-anchor="middle">0</text>
<path d="M3032.5 1944 L3041.5 1944 L3041.5 1944 L3056.8 1944 L3056.8 1944 L3071.4 1944 L3071.4 1957 L3084.1 1957 L3084.1 1968.9 L3093.7 1968.9 L3093.7 1977.8 L3110.2 1977.8 L3110.2 1983.1 L3126.9 1983.1 L3126.9 1987.5 L3140.1 1987.5 L3140.1 1989.6 L3153.1 1989.6 L3153.1 1990.7 L3163 1990.7 L3163 1991.4 L3170 1991.4 L3170 1992 L3181.5 1992 L3181.5 1992.9 L3195.5 1992.9 L3195.5 1994.2 L3203.3 1994.2 L3203.3 1996.9 L3219.8 1996.9 L3219.8 2002.8 L3229.6 2002.8 L3229.6 2006.3 L3239.4 2006.3 L3239.4 2009.7 L3246.9 2009.7 L3246.9 2012.4 L3265.9 2012.4 L3265.9 2019.1 L3281.8 2019.1 L3281.8 2024.7 L3299.3 2024.7 L3299.3 2030.4 L3313.7 2030.4 L3313.7 2035.1 L3321.1 2035.1 L3321.1 2037.5 L3332 2037.5 L3332 2041.1 L3345 2041.1 L3345 2045.3 L3353.4 2045.3 L3353.4 2048 L3371.8 2048 L3371.8 2054 L3383.2 2054 L3383.2 2057.9 L3392.1 2057.9 L3392.1 2062.3 L3408.9 2062.3 L3408.9 2070.4 L3417.4 2070.4 L3417.4 2072.8 L3435.5 2072.8 L3435.5 2077.8 L3448 2077.8 L3448 2081.3 L3461.6 2081.3 L3461.6 2085.1 L3472.7 2085.1 L3472.7 2088.5 L3485.5 2088.5 L3485.5 2093.1 L3494.8 2093.1 L3494.8 2096.4 L3502.2 2096.4 L3502.2 2099.1 L3519.6 2099.1 L3519.6 2105.4 L3529.4 2105.4 L3529.4 2108.9 L3545.8 2108.9 L3545.8 2114.7 L3555.3 2114.7 L3555.3 2118.1 L3573.9 2118.1 L3573.9 2124.7 L3591.6 2124.7 L3591.6 2130.9 L3607.7 2130.9 L3607.7 2136.6 L3623.8 2136.6 L3623.8 2142.7 L3637.8 2142.7 L3637.8 2148.7 L3653.6 2148.7 L3653.6 2155.8 L3662 2155.8 L3662 2160 L3674.7 2160 L3674.7 2166.3 L3691.7 2166.3 L3691.7 2174.7 L3701.1 2174.7 L3701.1 2179.4 L3719.2 2179.4 L3719.2 2188.4 L3736.8 2188.4 L3736.8 2197.2 L3748.7 2197.2 L3748.7 2203.1 L3760.1 2203.1 L3760.1 2208.8 L3772.5 2208.8 L3772.5 2212.2 L3784.2 2212.2 L3784.2 2214.8 L3803.1 2214.8 L3803.1 2218.9 L3814.7 2218.9 L3814.7 2221.5 L3822.1 2221.5 L3822.1 2223.1 L3830.2 2223.1 L3830.2 2224.9 L3845.8 2224.9 L3845.8 2228.3 L3864.7 2228.3 L3864.7 2232.5 L3877.7 2232.5 L3877.7 2235.3 L3890.6 2235.3 L3890.6 2239.5 L3904.2 2239.5 L3904.2 2248.6 L3920.1 2248.6 L3920.1 2259.2 L3929.8 2259.2 L3929.8 2265.6 L3944.1 2265.6 L3944.1 2275.1 L3957.8 2275.1 L3957.8 2279.9 L3972.3 2279.9 L3972.3 2281.7 L3981.4 2281.7 L3981.4 2282.8 L3990.5 2282.8 L3990.5 2283.9 L4001.6 2283.9 L4001.6 2285.2 L4019.8 2285.2 L4019.8 2287.4 L4030.9 2287.4 L4030.9 2288.7 L4045.1 2288.7 L4045.1 2290.4 L4055.8 2290.4 L4055.8 2294.2 L4064 2294.2 L4064 2298.8 L4071.8 2298.8 L4071.8 2303.2 L4088.6 2303.2 L4088.6 2312.6 L4104.9 2312.6 L4104.9 2319.6 L4116.4 2319.6 L4116.4 2321 L4131.6 2321 L4131.6 2322.8 L4146.7 2322.8 L4146.7 2324.6 L4164.5 2324.6 L4164.5 2327.6 L4183 2327.6 L4183 2330.9 L4194.9 2330.9 L4194.9 2333.1 L4213.7 2333.1 L4213.7 2334 L4232.3 2334 L4232.3 2334 L4246.4 2334 L4246.4 2334 L4264 2334 L4264 2334 L4276.9 2334 L4276.9 2334 L4288.4 2334 L4288.4 2334 L4298.3 2334 L4298.3 2334 L4315.8 2334 L4315.8 2334 L4324.8 2334 L4324.8 2334 L4332.6 2334 L4332.6 2334 L4349.3 2334 L4349.3 2334 L4365.6 2334 L4365.6 2334 L4378.4 2334 L4378.4 2334 L4395.4 2334 L4395.4 2334 L4403 2334 L4403 2334 L4413.1 2334 L4413.1 2334 L4423.6 2334 L4423.6 2334 L4435.6 2334 L4435.6 2334 L4444.7 2334 L4444.7 2334 L4452.5 2334 L4452.5 2334 L4463.6 2334 L4463.6 2334 L4481.4 2334 L4481.4 2334 L4500.2 2334 L4500.2 2334 L4516.1 2334 L4516.1 2334 L4528.9 2334 L4528.9 2334 L4538.9 2334 L4538.9 2334 L4557.4 2334 L4557.4 2334 L4570.7 2334 L4570.7 2334 L4586.5 2334 L4586.5 2334 L4593.8 2334 L4593.8 2334 L4603.3 2334 L4603.3 2334 L4620.4 2334 L4620.4 2334 L4636.9 2334 L4636.9 2334 L4654.5 2334 L4654.5 2334 L4668.7 2334 L4668.7 2334 L4669 2334 L4669 2334" fill="none" stroke="#1a1a1a" stroke-width="10.5" stroke-linejoin="round"/>
<path d="M3032.5 1944 L3045 1944 L3045 1944 L3062.5 1944 L3062.5 1948.7 L3069.9 1948.7 L3069.9 1955.6 L3080.3 1955.6 L3080.3 1965.3 L3098.9 1965.3 L3098.9 1980 L3113.8 1980 L3113.8 1984 L3122.4 1984 L3122.4 1986.3 L3133.5 1986.3 L3133.5 1989.8 L3151.1 1989.8 L3151.1 2002.4 L3163.4 2002.4 L3163.4 2011.2 L3170.7 2011.2 L3170.7 2016.2 L3188.5 2016.2 L3188.5 2020.5 L3197 2020.5 L3197 2022.6 L3211.7 2022.6 L3211.7 2026.3 L3226.2 2026.3 L3226.2 2029.8 L3238.7 2029.8 L3238.7 2032.9 L3257.2 2032.9 L3257.2 2037.4 L3266.4 2037.4 L3266.4 2040.4 L3280.6 2040.4 L3280.6 2045 L3289 2045 L3289 2047.8 L3307.6 2047.8 L3307.6 2053.8 L3316.3 2053.8 L3316.3 2056.7 L3329.5 2056.7 L3329.5 2060.9 L3346.5 2060.9 L3346.5 2066.1 L3364.1 2066.1 L3364.1 2067.2 L3372.2 2067.2 L3372.2 2067.7 L3389.8 2067.7 L3389.8 2068.9 L3406.9 2068.9 L3406.9 2070 L3417.7 2070 L3417.7 2072.8 L3433.7 2072.8 L3433.7 2077.3 L3443.5 2077.3 L3443.5 2080.1 L3452.3 2080.1 L3452.3 2082.5 L3461.3 2082.5 L3461.3 2085.1 L3472 2085.1 L3472 2088.2 L3488.9 2088.2 L3488.9 2094.3 L3501.4 2094.3 L3501.4 2098.8 L3520.3 2098.8 L3520.3 2105.6 L3538 2105.6 L3538 2112 L3547.5 2112 L3547.5 2115.3 L3559.7 2115.3 L3559.7 2119.7 L3567.5 2119.7 L3567.5 2122.4 L3581.5 2122.4 L3581.5 2127.4 L3595.8 2127.4 L3595.8 2132.4 L3609.9 2132.4 L3609.9 2137.4 L3617.9 2137.4 L3617.9 2140.3 L3632.3 2140.3 L3632.3 2146.3 L3640.6 2146.3 L3640.6 2149.9 L3657.7 2149.9 L3657.7 2157.8 L3670.2 2157.8 L3670.2 2164.1 L3678.4 2164.1 L3678.4 2168.1 L3697.2 2168.1 L3697.2 2177.5 L3715.5 2177.5 L3715.5 2186.6 L3726.5 2186.6 L3726.5 2192.1 L3744.6 2192.1 L3744.6 2201.1 L3755 2201.1 L3755 2206.3 L3768.4 2206.3 L3768.4 2211.3 L3782.3 2211.3 L3782.3 2214.4 L3798.8 2214.4 L3798.8 2218 L3806.6 2218 L3806.6 2219.7 L3814.1 2219.7 L3814.1 2221.4 L3822.9 2221.4 L3822.9 2223.3 L3834.5 2223.3 L3834.5 2225.8 L3851.1 2225.8 L3851.1 2229.5 L3866.7 2229.5 L3866.7 2232.9 L3875 2232.9 L3875 2234.8 L3890.8 2234.8 L3890.8 2237.5 L3900.1 2237.5 L3900.1 2237.5 L3907.3 2237.5 L3907.3 2237.5 L3920.1 2237.5 L3920.1 2237.5 L3938 2237.5 L3938 2237.6 L3955.9 2237.6 L3955.9 2239.5 L3968.2 2239.5 L3968.2 2240.9 L3984.7 2240.9 L3984.7 2242.7 L3994.1 2242.7 L3994.1 2243.8 L4003 2243.8 L4003 2244.8 L4021.5 2244.8 L4021.5 2246.8 L4036.5 2246.8 L4036.5 2248.5 L4045.6 2248.5 L4045.6 2249.5 L4056.7 2249.5 L4056.7 2253.1 L4072.9 2253.1 L4072.9 2260.6 L4080.6 2260.6 L4080.6 2264.2 L4089.9 2264.2 L4089.9 2268.5 L4106.5 2268.5 L4106.5 2276.2 L4116.3 2276.2 L4116.3 2279.9 L4128.4 2279.9 L4128.4 2282.6 L4140.5 2282.6 L4140.5 2285.4 L4153.3 2285.4 L4153.3 2287.7 L4164 2287.7 L4164 2288.4 L4174 2288.4 L4174 2289.1 L4190.6 2289.1 L4190.6 2290.2 L4206.7 2290.2 L4206.7 2291.3 L4225 2291.3 L4225 2292.5 L4232.5 2292.5 L4232.5 2293 L4241.4 2293 L4241.4 2293.6 L4258.7 2293.6 L4258.7 2294.7 L4269.4 2294.7 L4269.4 2295.5 L4285.9 2295.5 L4285.9 2296.6 L4296.6 2296.6 L4296.6 2297.3 L4308.3 2297.3 L4308.3 2313 L4323.3 2313 L4323.3 2313 L4335.4 2313 L4335.4 2313 L4348.7 2313 L4348.7 2313 L4356.2 2313 L4356.2 2313 L4373.4 2313 L4373.4 2313 L4387.9 2313 L4387.9 2313 L4397.9 2313 L4397.9 2313 L4410.6 2313 L4410.6 2313 L4425.3 2313 L4425.3 2313 L4443.5 2313 L4443.5 2313 L4450.8 2313 L4450.8 2313 L4468.9 2313 L4468.9 2313 L4482.9 2313 L4482.9 2313 L4490.4 2313 L4490.4 2313 L4501.8 2313 L4501.8 2313 L4517.5 2313 L4517.5 2313 L4525.9 2313 L4525.9 2313 L4539.9 2313 L4539.9 2313 L4553.6 2313 L4553.6 2313 L4567.5 2313 L4567.5 2313 L4574.9 2313 L4574.9 2313 L4582.1 2313 L4582.1 2313 L4600.7 2313 L4600.7 2313 L4609.6 2313 L4609.6 2313 L4618.9 2313 L4618.9 2313 L4632.7 2313 L4632.7 2313 L4639.9 2313 L4639.9 2313 L4655.7 2313 L4655.7 2313 L4669 2313 L4669 2313" fill="none" stroke="#1c1c1c" stroke-width="10.5" stroke-dasharray="13 4.5" stroke-linejoin="round"/>
<text x="4694" y="2329.9" font-size="38.5">63%</text>
<text x="4698" y="2347.9" font-size="38.5">62%</text>
</g>
<g id="panel-E">
<line x1="268.5" y1="3778" x2="268.5" y2="4863" stroke="#565656" stroke-width="16"/>
<line x1="262.5" y1="4857" x2="2420.5" y2="4857" stroke="#525252" stroke-width="16"/>
<line x1="268.5" y1="4855" x2="268.5" y2="4871" stroke="#3a3a3a" stroke-width="9"/>
<text x="268.5" y="4933.9" font-size="38.5" text-anchor="middle">0</text>
<line x1="626.5" y1="4855" x2="626.5" y2="4871" stroke="#3a3a3a" stroke-width="9"/>
<text x="626.5" y="4933.9" font-size="38.5" text-anchor="middle">6</text>
<line x1="984.5" y1="4855" x2="984.5" y2="4871" stroke="#3a3a3a" stroke-width="9"/>
<text x="984.5" y="4933.9" font-size="38.5" text-anchor="middle">12</text>
<line x1="1342.5" y1="4855" x2="1342.5" y2="4871" stroke="#3a3a3a" stroke-width="9"/>
<text x="1342.5" y="4933.9" font-size="38.5" text-anchor="middle">18</text>
<line x1="1700.5" y1="4855" x2="1700.5" y2="4871" stroke="#3a3a3a" stroke-width="9"/>
<text x="1700.5" y="4933.9" font-size="38.5" text-anchor="middle">24</text>
<line x1="2058.5" y1="4855" x2="2058.5" y2="4871" stroke="#3a3a3a" stroke-width="9"/>
<text x="2058.5" y="4933.9" font-size="38.5" text-anchor="middle">30</text>
<line x1="2416.5" y1="4855" x2="2416.5" y2="4871" stroke="#3a3a3a" stroke-width="9"/>
<text x="2416.5" y="4933.9" font-size="38.5" text-anchor="middle">36</text>
<line x1="253.5" y1="4857" x2="268.5" y2="4857" stroke="#666" stroke-width="8"/>
<text x="226.5" y="4870.9" font-size="38.5" text-anchor="end">0</text>
<line x1="253.5" y1="4588" x2="268.5" y2="4588" stroke="#666" stroke-width="8"/>
<text x="226.5" y="4601.9" font-size="38.5" text-anchor="end">25</text>
<line x1="253.5" y1="4319" x2="268.5" y2="4319" stroke="#666" stroke-width="8"/>
<text x="226.5" y="4332.9" font-size="38.5" text-anchor="end">50</text>
<line x1="253.5" y1="4050" x2="268.5" y2="4050" stroke="#666" stroke-width="8"/>
<text x="226.5" y="4063.9" font-size="38.5" text-anchor="end">75</text>
<line x1="253.5" y1="3781" x2="268.5" y2="3781" stroke="#666" stroke-width="8"/>
<text x="226.5" y="3794.9" font-size="38.5" text-anchor="end">100</text>
<text x="33" y="3694" font-size="105" stroke-width="2.5">E</text>
<text x="274" y="3653.5" font-size="47" textLength="582" lengthAdjust="spacingAndGlyphs">AML17: Overall Survival</text>
<text x="274" y="3703.5" font-size="47" textLength="513" lengthAdjust="spacingAndGlyphs">Adverse cytogenetics</text>
<text x="99.5" y="4323" font-size="38" text-anchor="middle" textLength="206" lengthAdjust="spacingAndGlyphs" transform="rotate(-90 99.5 4323)">% still alive</text>
<text x="1344.5" y="5049.9" font-size="38.5" text-anchor="middle">Months from entry</text>
<text x="1096" y="4401.9" font-size="38.5" textLength="474" lengthAdjust="spacingAndGlyphs">HR 1.41 (0.99–2.02), p=0.06</text>
<text x="825.5" y="4605.9" font-size="38.5" text-anchor="middle">No.</text>
<text x="826.5" y="4645.9" font-size="38.5" text-anchor="middle">Patients</text>
<text x="1073.5" y="4605.9" font-size="38.5" text-anchor="middle">No. Events</text>
<text x="988.5" y="4645.9" font-size="38.5" text-anchor="middle">Obs.</text>
<text x="1174.5" y="4645.9" font-size="38.5" text-anchor="end">Exp.</text>
<text x="537.5" y="4699.9" font-size="38.5" textLength="160" lengthAdjust="spacingAndGlyphs">DA 60mg</text>
<text x="825.5" y="4699.9" font-size="38.5" text-anchor="middle">94</text>
<text x="1026.5" y="4699.9" font-size="38.5" text-anchor="end">52</text>
<text x="1177.5" y="4699.9" font-size="38.5" text-anchor="end">63·5</text>
<text x="537.5" y="4736.9" font-size="38.5" textLength="160" lengthAdjust="spacingAndGlyphs">DA 90mg</text>
<text x="825.5" y="4736.9" font-size="38.5" text-anchor="middle">127</text>
<text x="1026.5" y="4736.9" font-size="38.5" text-anchor="end">70</text>
<text x="1177.5" y="4736.9" font-size="38.5" text-anchor="end">58·5</text>
<rect x="1853.5" y="4215" width="565" height="118" fill="none" stroke="#4a4a4a" stroke-width="10.5"/>
<line x1="1919.5" y1="4253.5" x2="2137.5" y2="4253.5" stroke="#151515" stroke-width="9.5"/>
<line x1="1919.5" y1="4288" x2="2137.5" y2="4288" stroke="#151515" stroke-width="9.5" stroke-dasharray="10 4.5"/>
<text x="2159.5" y="4268" font-size="36" textLength="158" lengthAdjust="spacingAndGlyphs" stroke-width="3">DA 60mg</text>
<text x="2159.5" y="4304" font-size="36" textLength="158" lengthAdjust="spacingAndGlyphs" stroke-width="3">DA 90mg</text>
<text x="31.5" y="5127.9" font-size="38.5" textLength="128" lengthAdjust="spacingAndGlyphs">At risk:</text>
<text x="-4.5" y="5183.9" font-size="38.5" textLength="165" lengthAdjust="spacingAndGlyphs">DA 60mg</text>
<text x="271.5" y="5183.9" font-size="38.5" text-anchor="middle">94</text>
<text x="629.5" y="5183.9" font-size="38.5" text-anchor="middle">58</text>
<text x="987.5" y="5183.9" font-size="38.5" text-anchor="middle">23</text>
<text x="1345.5" y="5183.9" font-size="38.5" text-anchor="middle">13</text>
<text x="1709.5" y="5183.9" font-size="38.5" text-anchor="middle">4</text>
<text x="2067.5" y="5183.9" font-size="38.5" text-anchor="middle">0</text>
<text x="2425.5" y="5183.9" font-size="38.5" text-anchor="middle">0</text>
<text x="-4.5" y="5221.9" font-size="38.5" textLength="165" lengthAdjust="spacingAndGlyphs">DA 90mg</text>
<text x="258.5" y="5221.9" font-size="38.5" text-anchor="middle">127</text>
<text x="629.5" y="5221.9" font-size="38.5" text-anchor="middle">58</text>
<text x="987.5" y="5221.9" font-size="38.5" text-anchor="middle">25</text>
<text x="1345.5" y="5221.9" font-size="38.5" text-anchor="middle">11</text>
<text x="1709.5" y="5221.9" font-size="38.5" text-anchor="middle">4</text>
<text x="2067.5" y="5221.9" font-size="38.5" text-anchor="middle">0</text>
<text x="2425.5" y="5221.9" font-size="38.5" text-anchor="middle">0</text>
<path d="M262.5 3780 L289.7 3780 L289.7 3780 L319.1 3780 L319.1 3822.2 L349.4 3822.2 L349.4 3847.7 L382.3 3847.7 L382.3 3859.9 L411.7 3859.9 L411.7 3879.4 L444.3 3879.4 L444.3 3922.9 L460.8 3922.9 L460.8 3936 L485.2 3936 L485.2 3981.8 L518.1 3981.8 L518.1 4005.9 L545.8 4005.9 L545.8 4022.5 L578 4022.5 L578 4040.5 L596.1 4040.5 L596.1 4050.5 L620.5 4050.5 L620.5 4081.6 L641 4081.6 L641 4112.7 L666.8 4112.7 L666.8 4145.5 L693.1 4145.5 L693.1 4161.2 L709.3 4161.2 L709.3 4165.8 L729.2 4165.8 L729.2 4171.5 L750.2 4171.5 L750.2 4177.5 L782.7 4177.5 L782.7 4186.9 L812.5 4186.9 L812.5 4195.7 L831.4 4195.7 L831.4 4201.2 L861.7 4201.2 L861.7 4240.3 L880.2 4240.3 L880.2 4268.8 L907.4 4268.8 L907.4 4287.3 L925.6 4287.3 L925.6 4294 L941.7 4294 L941.7 4299.9 L973.4 4299.9 L973.4 4319.1 L993.1 4319.1 L993.1 4332.8 L1013 4332.8 L1013 4355.2 L1046 4355.2 L1046 4400 L1098 4400 L1127 4436 L1260 4436 L1283 4494 L1421 4494 L1421 4526 L1490 4526 L1502 4560 L1904 4560" fill="none" stroke="#1a1a1a" stroke-width="12" stroke-linejoin="round"/>
<path d="M262.5 3780 L280.1 3780 L280.1 3780 L309.5 3780 L309.5 3807.7 L325.5 3807.7 L325.5 3851.4 L350.8 3851.4 L350.8 3918.6 L366.2 3918.6 L366.2 3930 L384.1 3930 L384.1 3959.2 L414.1 3959.2 L414.1 4006.9 L431.5 4006.9 L431.5 4033.8 L455.8 4033.8 L455.8 4075.5 L477.1 4075.5 L477.1 4119.6 L498.3 4119.6 L498.3 4125.4 L520.3 4125.4 L520.3 4132.5 L537.3 4132.5 L537.3 4152.8 L564.6 4152.8 L564.6 4185.3 L580.1 4185.3 L580.1 4203.7 L597.8 4203.7 L597.8 4233.1 L612.1 4233.1 L612.1 4253.7 L630.4 4253.7 L630.4 4278 L650.9 4278 L650.9 4305.4 L679.4 4305.4 L679.4 4338.6 L699.4 4338.6 L699.4 4343.6 L715.2 4343.6 L715.2 4347.6 L733.4 4347.6 L733.4 4356.3 L763.2 4356.3 L763.2 4378.7 L778.2 4378.7 L778.2 4387.8 L802.2 4387.8 L802.2 4389.9 L822.2 4389.9 L822.2 4391.6 L846.8 4391.6 L846.8 4393.7 L866.2 4393.7 L866.2 4408.5 L891.3 4408.5 L891.3 4431 L913.2 4431 L913.2 4450.1 L937.6 4450.1 L937.6 4455 L966 4455 L966 4462.5 L989.3 4462.5 L989.3 4479.3 L1000 4479.3 L1000 4487 L1052 4493 L1080 4522 L1115 4528 L1138 4557 L1619 4557 L1619 4610 L1810 4610" fill="none" stroke="#1c1c1c" stroke-width="10.5" stroke-dasharray="15 4" stroke-linejoin="round"/>
<text x="1922" y="4574.9" font-size="38.5">28%</text>
<text x="1835" y="4623.9" font-size="38.5">22%</text>
</g>
<g id="panel-F">
<line x1="3032" y1="3828" x2="3032" y2="4913" stroke="#4a4a4a" stroke-width="12"/>
<line x1="3026" y1="4907" x2="5184" y2="4907" stroke="#505050" stroke-width="13"/>
<line x1="3032" y1="4905" x2="3032" y2="4921" stroke="#3a3a3a" stroke-width="9"/>
<text x="3032" y="4983.9" font-size="38.5" text-anchor="middle">0</text>
<line x1="3390" y1="4905" x2="3390" y2="4921" stroke="#3a3a3a" stroke-width="9"/>
<text x="3390" y="4983.9" font-size="38.5" text-anchor="middle">6</text>
<line x1="3748" y1="4905" x2="3748" y2="4921" stroke="#3a3a3a" stroke-width="9"/>
<text x="3748" y="4983.9" font-size="38.5" text-anchor="middle">12</text>
<line x1="4106" y1="4905" x2="4106" y2="4921" stroke="#3a3a3a" stroke-width="9"/>
<text x="4106" y="4983.9" font-size="38.5" text-anchor="middle">18</text>
<line x1="4464" y1="4905" x2="4464" y2="4921" stroke="#3a3a3a" stroke-width="9"/>
<text x="4464" y="4983.9" font-size="38.5" text-anchor="middle">24</text>
<line x1="4822" y1="4905" x2="4822" y2="4921" stroke="#3a3a3a" stroke-width="9"/>
<text x="4822" y="4983.9" font-size="38.5" text-anchor="middle">30</text>
<line x1="5180" y1="4905" x2="5180" y2="4921" stroke="#3a3a3a" stroke-width="9"/>
<text x="5180" y="4983.9" font-size="38.5" text-anchor="middle">36</text>
<line x1="3017" y1="4907" x2="3032" y2="4907" stroke="#666" stroke-width="8"/>
<text x="2990" y="4920.9" font-size="38.5" text-anchor="end">0</text>
<line x1="3017" y1="4638" x2="3032" y2="4638" stroke="#666" stroke-width="8"/>
<text x="2990" y="4651.9" font-size="38.5" text-anchor="end">25</text>
<line x1="3017" y1="4369" x2="3032" y2="4369" stroke="#666" stroke-width="8"/>
<text x="2990" y="4382.9" font-size="38.5" text-anchor="end">50</text>
<line x1="3017" y1="4100" x2="3032" y2="4100" stroke="#666" stroke-width="8"/>
<text x="2990" y="4113.9" font-size="38.5" text-anchor="end">75</text>
<line x1="3017" y1="3831" x2="3032" y2="3831" stroke="#666" stroke-width="8"/>
<text x="2990" y="3844.9" font-size="38.5" text-anchor="end">100</text>
<text x="2693" y="3754" font-size="105" stroke-width="2.5">F</text>
<text x="3035" y="3707.5" font-size="47" textLength="978" lengthAdjust="spacingAndGlyphs">AML17: Survival censored at Transplant</text>
<text x="2863" y="4373" font-size="38" text-anchor="middle" textLength="206" lengthAdjust="spacingAndGlyphs" transform="rotate(-90 2863 4373)">% still alive</text>
<text x="4108" y="5099.9" font-size="38.5" text-anchor="middle">Months from entry</text>
<text x="3850" y="4402.9" font-size="38.5" textLength="486" lengthAdjust="spacingAndGlyphs">HR 1.20 (0.96–1.51), p=0.11</text>
<text x="3589" y="4610.9" font-size="38.5" text-anchor="middle">No.</text>
<text x="3590" y="4647.9" font-size="38.5" text-anchor="middle">Patients</text>
<text x="3837" y="4610.9" font-size="38.5" text-anchor="middle">No. Events</text>
<text x="3752" y="4647.9" font-size="38.5" text-anchor="middle">Obs.</text>
<text x="3938" y="4647.9" font-size="38.5" text-anchor="end">Exp.</text>
<text x="3301" y="4700.9" font-size="38.5" textLength="160" lengthAdjust="spacingAndGlyphs">DA 60mg</text>
<text x="3589" y="4700.9" font-size="38.5" text-anchor="middle">594</text>
<text x="3790" y="4700.9" font-size="38.5" text-anchor="end">138</text>
<text x="3941" y="4700.9" font-size="38.5" text-anchor="end">151·4</text>
<text x="3301" y="4742.4" font-size="38.5" textLength="160" lengthAdjust="spacingAndGlyphs">DA 90mg</text>
<text x="3589" y="4742.4" font-size="38.5" text-anchor="middle">597</text>
<text x="3790" y="4742.4" font-size="38.5" text-anchor="end">159</text>
<text x="3941" y="4742.4" font-size="38.5" text-anchor="end">145·4</text>
<rect x="4617" y="4577" width="565" height="118" fill="none" stroke="#4a4a4a" stroke-width="10.5"/>
<line x1="4683" y1="4615.5" x2="4901" y2="4615.5" stroke="#151515" stroke-width="9.5"/>
<line x1="4683" y1="4650" x2="4901" y2="4650" stroke="#151515" stroke-width="9.5" stroke-dasharray="10 4.5"/>
<text x="4923" y="4630" font-size="36" textLength="158" lengthAdjust="spacingAndGlyphs" stroke-width="3">DA 60mg</text>
<text x="4923" y="4666" font-size="36" textLength="158" lengthAdjust="spacingAndGlyphs" stroke-width="3">DA 90mg</text>
<text x="2795" y="5177.9" font-size="38.5" textLength="128" lengthAdjust="spacingAndGlyphs">At risk:</text>
<text x="2759" y="5233.9" font-size="38.5" textLength="165" lengthAdjust="spacingAndGlyphs">DA 60mg</text>
<text x="3022" y="5233.9" font-size="38.5" text-anchor="middle">594</text>
<text x="3380" y="5233.9" font-size="38.5" text-anchor="middle">348</text>
<text x="3738" y="5233.9" font-size="38.5" text-anchor="middle">181</text>
<text x="4109" y="5233.9" font-size="38.5" text-anchor="middle">73</text>
<text x="4467" y="5233.9" font-size="38.5" text-anchor="middle">21</text>
<text x="4831" y="5233.9" font-size="38.5" text-anchor="middle">0</text>
<text x="5189" y="5233.9" font-size="38.5" text-anchor="middle">0</text>
<text x="2759" y="5271.9" font-size="38.5" textLength="165" lengthAdjust="spacingAndGlyphs">DA 90mg</text>
<text x="3022" y="5271.9" font-size="38.5" text-anchor="middle">597</text>
<text x="3380" y="5271.9" font-size="38.5" text-anchor="middle">341</text>
<text x="3738" y="5271.9" font-size="38.5" text-anchor="middle">169</text>
<text x="4109" y="5271.9" font-size="38.5" text-anchor="middle">79</text>
<text x="4467" y="5271.9" font-size="38.5" text-anchor="middle">21</text>
<text x="4831" y="5271.9" font-size="38.5" text-anchor="middle">0</text>
<text x="5189" y="5271.9" font-size="38.5" text-anchor="middle">0</text>
<path d="M3032.5 3835 L3044.6 3835 L3044.6 3838.4 L3058.3 3838.4 L3058.3 3842.4 L3072 3842.4 L3072 3854 L3086.1 3854 L3086.1 3871.4 L3102.7 3871.4 L3102.7 3876.2 L3121.3 3876.2 L3121.3 3877.8 L3136.4 3877.8 L3136.4 3879.1 L3153.1 3879.1 L3153.1 3880.6 L3166.9 3880.6 L3166.9 3884.8 L3179.6 3884.8 L3179.6 3889.8 L3196.6 3889.8 L3196.6 3896.7 L3215.6 3896.7 L3215.6 3904.2 L3229.5 3904.2 L3229.5 3910.2 L3244 3910.2 L3244 3916.6 L3251.8 3916.6 L3251.8 3920 L3269.1 3920 L3269.1 3927.6 L3283.8 3927.6 L3283.8 3934.1 L3298.4 3934.1 L3298.4 3940.5 L3307.4 3940.5 L3307.4 3944.5 L3321.4 3944.5 L3321.4 3950.6 L3335.7 3950.6 L3335.7 3957.2 L3344.5 3957.2 L3344.5 3961.2 L3356.5 3961.2 L3356.5 3966.7 L3372.4 3966.7 L3372.4 3974 L3388.8 3974 L3388.8 3981.4 L3404.3 3981.4 L3404.3 3988.5 L3419.4 3988.5 L3419.4 3994.5 L3437.8 3994.5 L3437.8 4001.4 L3454.3 4001.4 L3454.3 4006.9 L3462.1 4006.9 L3462.1 4008.4 L3473.5 4008.4 L3473.5 4010.7 L3480.9 4010.7 L3480.9 4012.2 L3498.8 4012.2 L3498.8 4017.3 L3514.1 4017.3 L3514.1 4026.6 L3523.7 4026.6 L3523.7 4032.4 L3532.9 4032.4 L3532.9 4038 L3542.6 4038 L3542.6 4043.9 L3556.9 4043.9 L3556.9 4052.6 L3569.7 4052.6 L3569.7 4056.1 L3576.7 4056.1 L3576.7 4056.3 L3591.6 4056.3 L3591.6 4056.6 L3602 4056.6 L3602 4056.8 L3612.5 4056.8 L3612.5 4057 L3631.4 4057 L3631.4 4068.5 L3649.3 4068.5 L3649.3 4079.2 L3666.8 4079.2 L3666.8 4089.8 L3684.5 4089.8 L3684.5 4100.5 L3698.3 4100.5 L3698.3 4108.9 L3706 4108.9 L3706 4113.5 L3717.5 4113.5 L3717.5 4120.5 L3731.8 4120.5 L3731.8 4127.4 L3750 4127.4 L3750 4133.8 L3760.9 4133.8 L3760.9 4137.7 L3768.7 4137.7 L3768.7 4140.5 L3787.2 4140.5 L3787.2 4147 L3802.8 4147 L3802.8 4152.6 L3819.9 4152.6 L3819.9 4157.1 L3832.7 4157.1 L3832.7 4159 L3843.3 4159 L3843.3 4160.6 L3854.1 4160.6 L3854.1 4162.2 L3862.8 4162.2 L3862.8 4163.5 L3874.2 4163.5 L3874.2 4165.2 L3888 4165.2 L3888 4167.2 L3906.5 4167.2 L3906.5 4171.7 L3925.1 4171.7 L3925.1 4179.4 L3937.9 4179.4 L3937.9 4184.7 L3947.5 4184.7 L3947.5 4188.6 L3966 4188.6 L3966 4196.3 L3973.1 4196.3 L3973.1 4199.2 L3981 4199.2 L3981 4201.2 L3996.1 4201.2 L3996.1 4204.2 L4010.4 4204.2 L4010.4 4207.1 L4029.2 4207.1 L4029.2 4210.8 L4044.3 4210.8 L4044.3 4216.9 L4061.1 4216.9 L4061.1 4227.7 L4078.7 4227.7 L4078.7 4238.5 L4097.1 4238.5 L4097.1 4243.8 L4114.7 4243.8 L4114.7 4248.9 L4127.8 4248.9 L4127.8 4249.2 L4142.5 4249.2 L4142.5 4249.4 L4158.7 4249.4 L4158.7 4249.6 L4166 4249.6 L4166 4249.7 L4179.3 4249.7 L4179.3 4249.8 L4191.2 4249.8 L4191.2 4250 L4207.7 4250 L4207.7 4250.4 L4217 4250.4 L4217 4250.6 L4234 4250.6 L4234 4251.1 L4243.7 4251.1 L4243.7 4251.3 L4256.3 4251.3 L4256.3 4251.7 L4269.9 4251.7 L4269.9 4252 L4280.6 4252 L4280.6 4252.3 L4296.3 4252.3 L4296.3 4252.7 L4312.9 4252.7 L4312.9 4253 L4331.8 4253 L4331.8 4253 L4343.7 4253 L4343.7 4253 L4361.8 4253 L4361.8 4253 L4375.9 4253 L4375.9 4253 L4392.5 4253 L4392.5 4253 L4401.7 4253 L4401.7 4253 L4414.1 4253 L4414.1 4253 L4430.3 4253 L4430.3 4253 L4444.9 4253 L4444.9 4253 L4454.1 4253 L4454.1 4253 L4468.2 4253 L4468.2 4253 L4484.4 4253 L4484.4 4253 L4501.6 4253 L4501.6 4253 L4509.1 4253 L4509.1 4253 L4517.2 4253 L4517.2 4253 L4527.8 4253 L4527.8 4253 L4534.9 4253 L4534.9 4253 L4552.3 4253 L4552.3 4253 L4569 4253 L4569 4253 L4585.5 4253 L4585.5 4253 L4599.2 4253 L4599.2 4253 L4610 4253 L4610 4253 L4622.6 4253 L4622.6 4253 L4630.4 4253 L4630.4 4253 L4647.2 4253 L4647.2 4253 L4656.7 4253 L4656.7 4253 L4672.7 4253 L4672.7 4253 L4682 4253 L4682 4253" fill="none" stroke="#1a1a1a" stroke-width="12.5" stroke-linejoin="round"/>
<path d="M3032.5 3835 L3041.9 3835 L3041.9 3838.3 L3050.1 3838.3 L3050.1 3841.1 L3065 3841.1 L3065 3847.3 L3079 3847.3 L3079 3866.4 L3093.6 3866.4 L3093.6 3886.5 L3104.9 3886.5 L3104.9 3902.3 L3117.3 3902.3 L3117.3 3911.6 L3135 3911.6 L3135 3921.7 L3151.8 3921.7 L3151.8 3931.3 L3161.9 3931.3 L3161.9 3937.1 L3172.2 3937.1 L3172.2 3943 L3180.1 3943 L3180.1 3947.5 L3195.9 3947.5 L3195.9 3956.4 L3203.4 3956.4 L3203.4 3959.6 L3218.5 3959.6 L3218.5 3966.2 L3237 3966.2 L3237 3974.2 L3254.1 3974.2 L3254.1 3981.7 L3265.6 3981.7 L3265.6 3986.7 L3282.3 3986.7 L3282.3 3993.9 L3290.9 3993.9 L3290.9 3997.1 L3307.1 3997.1 L3307.1 4003.1 L3316.3 4003.1 L3316.3 4006.5 L3331.4 4006.5 L3331.4 4012.1 L3338.7 4012.1 L3338.7 4014.8 L3351.8 4014.8 L3351.8 4019.6 L3369.9 4019.6 L3369.9 4026.3 L3379.5 4026.3 L3379.5 4029.9 L3387.7 4029.9 L3387.7 4032.5 L3399.8 4032.5 L3399.8 4035.9 L3406.9 4035.9 L3406.9 4037.9 L3414.9 4037.9 L3414.9 4040.1 L3429.7 4040.1 L3429.7 4044.3 L3448.5 4044.3 L3448.5 4049.6 L3467.2 4049.6 L3467.2 4057.1 L3483.9 4057.1 L3483.9 4064 L3496.1 4064 L3496.1 4069.1 L3512.5 4069.1 L3512.5 4075.8 L3528.4 4075.8 L3528.4 4082.5 L3544.6 4082.5 L3544.6 4089.7 L3557.3 4089.7 L3557.3 4095.4 L3573.3 4095.4 L3573.3 4102.5 L3584.4 4102.5 L3584.4 4107.4 L3594.7 4107.4 L3594.7 4112 L3603.8 4112 L3603.8 4116 L3615.2 4116 L3615.2 4121.1 L3627.5 4121.1 L3627.5 4126.6 L3638.3 4126.6 L3638.3 4131.3 L3655.8 4131.3 L3655.8 4136.8 L3669.2 4136.8 L3669.2 4141 L3681.3 4141 L3681.3 4144.8 L3699.8 4144.8 L3699.8 4150.6 L3717.5 4150.6 L3717.5 4156.2 L3725.2 4156.2 L3725.2 4158.6 L3736.3 4158.6 L3736.3 4162.1 L3751.6 4162.1 L3751.6 4172.8 L3763.7 4172.8 L3763.7 4181.7 L3782.2 4181.7 L3782.2 4191.2 L3797.9 4191.2 L3797.9 4193.7 L3816.1 4193.7 L3816.1 4196.6 L3831.2 4196.6 L3831.2 4199 L3840.6 4199 L3840.6 4200.5 L3848.3 4200.5 L3848.3 4201.7 L3860.1 4201.7 L3860.1 4203.6 L3869 4203.6 L3869 4205 L3882.7 4205 L3882.7 4206.4 L3898.9 4206.4 L3898.9 4207.2 L3912.6 4207.2 L3912.6 4208 L3928.1 4208 L3928.1 4208.8 L3936.7 4208.8 L3936.7 4209.2 L3955.6 4209.2 L3955.6 4210.2 L3974.5 4210.2 L3974.5 4211.2 L3985.1 4211.2 L3985.1 4211.7 L4000.3 4211.7 L4000.3 4212.6 L4015.5 4212.6 L4015.5 4216.8 L4030.1 4216.8 L4030.1 4220.9 L4040.5 4220.9 L4040.5 4223.8 L4052.1 4223.8 L4052.1 4227 L4063.4 4227 L4063.4 4230.2 L4074 4230.2 L4074 4233.2 L4091.4 4233.2 L4091.4 4235.5 L4106.7 4235.5 L4106.7 4237.1 L4121.4 4237.1 L4121.4 4238.1 L4128.4 4238.1 L4128.4 4238.2 L4136.9 4238.2 L4136.9 4238.3 L4149.8 4238.3 L4149.8 4238.5 L4165.6 4238.5 L4165.6 4238.7 L4177.4 4238.7 L4177.4 4238.8 L4193.9 4238.8 L4193.9 4243.5 L4202.7 4243.5 L4202.7 4258.2 L4218.4 4258.2 L4218.4 4259.4 L4236.7 4259.4 L4236.7 4260.7 L4253.8 4260.7 L4253.8 4262 L4269.2 4262 L4269.2 4263.1 L4277.2 4263.1 L4277.2 4263.7 L4288 4263.7 L4288 4264.5 L4299.5 4264.5 L4299.5 4265.4 L4306.7 4265.4 L4306.7 4265.9 L4317.3 4265.9 L4317.3 4266 L4335.8 4266 L4335.8 4266 L4348 4266 L4348 4266 L4364.2 4266 L4364.2 4266 L4373.5 4266 L4373.5 4266 L4382.4 4266 L4382.4 4266 L4390.3 4266 L4390.3 4266 L4401.7 4266 L4401.7 4266 L4418.9 4266 L4418.9 4266 L4434.8 4266 L4434.8 4266 L4443.8 4266 L4443.8 4266 L4455.3 4266 L4455.3 4266 L4464.8 4266 L4464.8 4266 L4476.7 4266 L4476.7 4266 L4489.2 4266 L4489.2 4266 L4506.6 4266 L4506.6 4266 L4514.3 4266 L4514.3 4266 L4528.5 4266 L4528.5 4266 L4540.1 4266 L4540.1 4266 L4555.1 4266 L4555.1 4266 L4572.4 4266 L4572.4 4266 L4582.4 4266 L4582.4 4266 L4595.1 4266 L4595.1 4266 L4613.4 4266 L4613.4 4266 L4628 4266 L4628 4266 L4640.9 4266 L4640.9 4266 L4651.6 4266 L4651.6 4266 L4665.6 4266 L4665.6 4266 L4680.5 4266 L4680.5 4266 L4682 4266 L4682 4266" fill="none" stroke="#1c1c1c" stroke-width="11" stroke-dasharray="13 4.5" stroke-linejoin="round"/>
<text x="4695" y="4268.9" font-size="38.5">60%</text>
<text x="4697" y="4280.9" font-size="38.5">60%</text>
</g>
</svg>
</body>
</html>
